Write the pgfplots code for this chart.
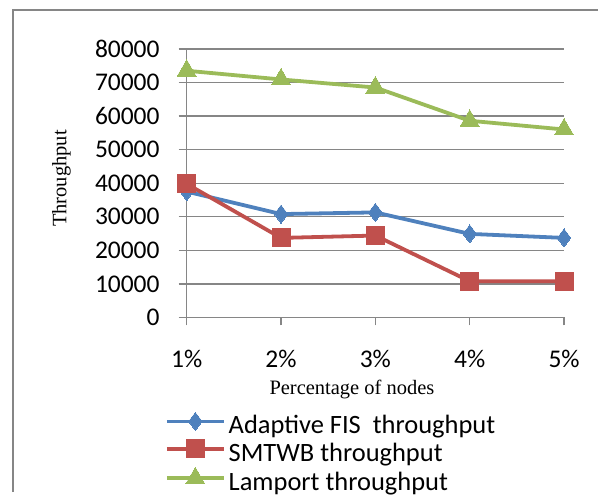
\documentclass[border=0pt]{standalone}
\usepackage{pgfplots}
\pgfplotsset{compat=1.18}
\usepackage{fontspec}
\setmainfont{Carlito}
\newfontfamily\timesf{Liberation Serif}
\definecolor{xblue}{HTML}{4F81BD}
\definecolor{xred}{HTML}{C0504D}
\definecolor{xgreen}{HTML}{9BBB59}
\definecolor{xgray}{HTML}{868686}
\begin{document}
\begin{tikzpicture}
\begin{axis}[
  at={(0pt,0pt)}, anchor=south west,
  scale only axis, width=378pt, height=269pt,
  xmin=0, xmax=4, ymin=0, ymax=80000,
  axis lines=left,
  axis line style={-, xgray, line width=1.3pt},
  xtick={0,1,2,3,4},
  xticklabels={1\%,2\%,3\%,4\%,5\%},
  ytick={0,10000,...,80000},
  scaled y ticks=false,
  /pgf/number format/1000 sep={},
  /pgf/number format/assume math mode=true,
  tick align=outside,
  major tick length=8pt,
  tick style={xgray, line width=1.3pt},
  ymajorgrids=true,
  grid style={xgray, line width=1.3pt},
  ticklabel style={font=\fontsize{25.5}{30}\selectfont, inner sep=0pt},
  yticklabel style={anchor=east, xshift=-19pt},
  xticklabel style={anchor=base, yshift=-42pt},
  xlabel={Percentage of nodes},
  ylabel={Throughput},
  label style={font=\timesf\fontsize{20.5}{24}\selectfont},
  xlabel style={at={(axis description cs:0.4378,0)}, anchor=base, yshift=-77pt},
  ylabel style={at={(axis description cs:-0.332,0.517)}, anchor=center},
  legend style={at={(axis description cs:-0.058,-0.353)}, anchor=north west,
    draw=none, fill=none, inner sep=0pt,
    font=\fontsize{26.5}{30}\selectfont,
    nodes={inner sep=0pt, text height=19pt, text depth=6pt},
    row sep=0pt, column sep=3pt},
  legend cell align=left,
  legend image code/.code={\draw[mark repeat=2,mark phase=2,#1,yshift=6pt] plot coordinates {(0pt,0pt)(28.5pt,0pt)(57pt,0pt)};},
  clip=false,
]
\addplot[color=xblue, line width=3.8pt, mark=diamond*, mark size=9pt, mark options={solid, fill=xblue, draw=xblue, line width=0pt}]
  coordinates {(0,37500) (1,30800) (2,31300) (3,24900) (4,23700)};
\addlegendentry{Adaptive FIS\ \ throughput}
\addplot[color=xred, line width=3.8pt, mark=square*, mark size=9pt, mark options={solid, fill=xred, draw=xred, line width=0pt}]
  coordinates {(0,39800) (1,23700) (2,24400) (3,10800) (4,10800)};
\addlegendentry{SMTWB throughput}
\addplot[color=xgreen, line width=3.8pt, mark=triangle*, mark size=11pt, mark options={solid, fill=xgreen, draw=xgreen, line width=0pt}]
  coordinates {(0,73500) (1,70900) (2,68500) (3,58600) (4,56000)};
\addlegendentry{Lamport throughput}
\end{axis}
\draw[xgray, line width=2pt] (-174pt,-175pt) -- (-174pt,308pt) -- (412pt,308pt);
\useasboundingbox (-187pt,-175pt) rectangle (412pt,318pt);
\end{tikzpicture}
\end{document}
